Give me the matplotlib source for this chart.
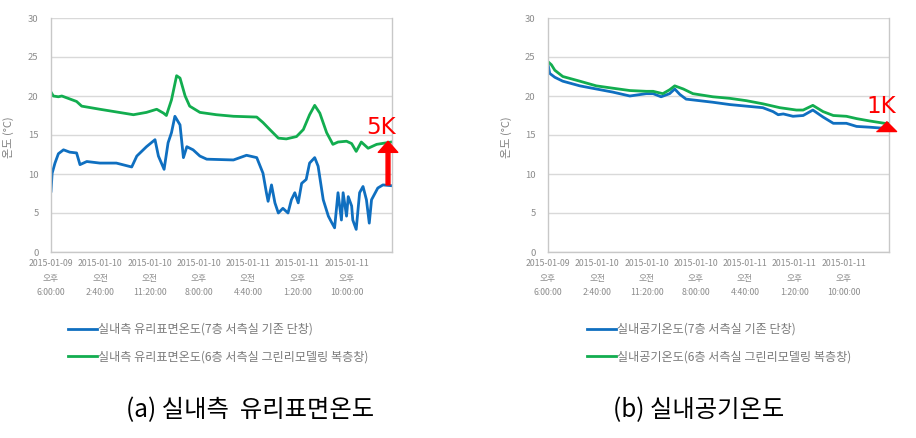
import matplotlib
matplotlib.use("Agg")
import matplotlib.pyplot as plt

plt.rcParams['font.family'] = ['Noto Sans CJK KR', 'DejaVu Sans']

# ---------------- data (time in hours from 2015-01-09 18:00) ----------------
tick_hours = [0, 8.667, 17.333, 26.0, 34.667, 43.333, 52.0]
tick_labels = [
    "2015-01-09\n오후\n6:00:00",
    "2015-01-10\n오전\n2:40:00",
    "2015-01-10\n오전\n11:20:00",
    "2015-01-10\n오후\n8:00:00",
    "2015-01-11\n오전\n4:40:00",
    "2015-01-11\n오후\n1:20:00",
    "2015-01-11\n오후\n10:00:00",
]
y_ticks = [0, 5, 10, 15, 20, 25, 30]

# (a) glass surface temperature
a_green_t = [0, 0.4, 1.3, 1.9, 4.5, 5.4, 8.6, 14.5, 16.8, 18.6, 19.8, 20.3, 21.2, 22.1,
             22.7, 23.6, 24.4, 26.2, 29.1, 32.1, 36.2, 37.3, 38.5, 40.0, 41.4, 43.2,
             44.4, 45.5, 46.4, 47.3, 48.5, 49.6, 50.5, 52.0, 52.9, 53.7, 54.6, 55.8,
             57.3, 59.9]
a_green_v = [20.5, 20.0, 19.9, 20.0, 19.3, 18.7, 18.3, 17.6, 17.9, 18.3, 17.8, 17.5, 19.5, 22.6,
             22.3, 20.0, 18.7, 17.9, 17.6, 17.4, 17.3, 16.6, 15.7, 14.6, 14.5, 14.8,
             15.7, 17.6, 18.8, 17.8, 15.3, 13.8, 14.1, 14.2, 13.9, 12.9, 14.1, 13.3,
             13.8, 14.1]
a_blue_t = [0, 0.2, 0.7, 1.3, 2.2, 3.3, 4.5, 5.1, 6.3, 8.6, 11.5, 14.2, 15.1, 16.8, 18.3,
            18.9, 19.9, 20.6, 21.2, 21.8, 22.7, 23.3, 23.9, 25.0, 26.2, 27.4, 32.1, 34.4,
            36.2, 37.3, 37.9, 38.2, 38.8, 39.4, 40.0, 40.8, 41.7, 42.3, 42.9, 43.5, 44.1,
            44.9, 45.5, 46.4, 47.0, 47.9, 48.8, 49.3, 49.9, 50.5, 51.1, 51.4, 52.0, 52.3,
            52.9, 53.1, 53.7, 54.3, 54.9, 55.5, 56.0, 56.4, 57.5, 58.4, 59.9]
a_blue_v = [7.8, 10.1, 11.4, 12.6, 13.1, 12.8, 12.7, 11.2, 11.6, 11.4, 11.4, 10.9, 12.3, 13.5, 14.4,
            12.3, 10.6, 14.0, 15.3, 17.4, 16.3, 12.1, 13.5, 13.1, 12.3, 11.9, 11.8, 12.4,
            12.1, 10.1, 7.6, 6.5, 8.6, 6.3, 5.0, 5.6, 5.0, 6.7, 7.6, 6.3, 8.8,
            9.3, 11.4, 12.1, 11.0, 6.7, 4.6, 3.9, 3.1, 7.6, 4.1, 7.6, 4.6, 7.1,
            5.9, 4.1, 2.9, 7.6, 8.4, 6.7, 3.7, 6.7, 8.2, 8.6, 8.5]

# (b) indoor air temperature
b_green_t = [0, 0.6, 1.2, 2.6, 5.6, 8.5, 11.4, 14.4, 17.3, 18.5, 20.2, 21.4, 22.3, 23.8,
             25.5, 29.0, 32.0, 34.9, 37.8, 40.8, 43.7, 44.9, 46.6, 48.4, 50.2, 52.5,
             54.3, 56.6, 59.2, 60.0]
b_green_v = [24.4, 24.0, 23.3, 22.5, 21.9, 21.3, 21.0, 20.7, 20.6, 20.6, 20.3, 20.8, 21.3, 20.9,
             20.3, 19.9, 19.7, 19.4, 19.0, 18.5, 18.2, 18.2, 18.8, 18.0, 17.5, 17.4,
             17.1, 16.8, 16.5, 16.5]
b_blue_t = [0, 0.3, 1.2, 2.6, 5.6, 8.5, 11.4, 14.4, 17.3, 18.5, 19.9, 21.4, 22.3, 23.2,
            24.3, 29.0, 32.0, 34.9, 37.8, 39.6, 40.5, 41.4, 43.1, 44.9, 46.6, 48.4,
            50.2, 52.5, 54.3, 56.6, 58.4, 59.3]
b_blue_v = [24.1, 22.9, 22.4, 21.9, 21.3, 20.9, 20.5, 20.0, 20.3, 20.3, 19.9, 20.3, 20.9, 20.2,
            19.6, 19.2, 18.9, 18.7, 18.5, 18.0, 17.6, 17.7, 17.4, 17.5, 18.2, 17.3,
            16.5, 16.5, 16.1, 16.0, 15.9, 15.9]

legend_a = ["실내측 유리표면온도(7층 서측실 기존 단창)",
            "실내측 유리표면온도(6층 서측실 그린리모델링 복층창)"]
legend_b = ["실내공기온도(7층 서측실 기존 단창)",
            "실내공기온도(6층 서측실 그린리모델링 복층창)"]
caption_a = "(a) 실내측  유리표면온도"
caption_b = "(b) 실내공기온도"
y_label = "온도 (°C)"

# annotations
arrow_t, arrow_from, arrow_to = 59.3, 8.6, 14.2
label_a_t, label_a_v, label_a = 58.1, 15.9, "5K"
tri_t, tri_v = 59.4, 16.1
label_b_t, label_b_v, label_b = 58.6, 18.6, "1K"

BLUE = "#0f6fc0"
GREEN = "#12ad4f"
GRAY_TXT = "#8c8c8c"
GRID = "#d9d9d9"

W, H = 916, 438
fig = plt.figure(figsize=(W / 100, H / 100), dpi=100)


def make_axes(x0_px):
    ax = fig.add_axes([x0_px / W, (H - 252) / H, 341 / W, 234 / H])
    ax.set_xlim(0, 60)
    ax.set_ylim(0, 30)
    ax.set_yticks(y_ticks)
    ax.set_xticks(tick_hours)
    ax.set_xticklabels(tick_labels, linespacing=1.8)
    ax.tick_params(axis='x', length=0, pad=5, labelsize=6.3, colors=GRAY_TXT)
    ax.tick_params(axis='y', length=0, pad=9, labelsize=6.8, colors=GRAY_TXT)
    ax.grid(axis='y', color=GRID, lw=1.0)
    ax.set_axisbelow(True)
    for s in ax.spines.values():
        s.set_color("#c8c8c8")
        s.set_linewidth(1.0)
    ax.spines['top'].set_visible(False)
    ax.set_ylabel(y_label, fontsize=8, color="#808080")
    return ax


ax1 = make_axes(51)
l1, = ax1.plot(a_blue_t, a_blue_v, color=BLUE, lw=2.0)
l2, = ax1.plot(a_green_t, a_green_v, color=GREEN, lw=2.0)
ax1.yaxis.set_label_coords(-0.108, 0.49)
ax1.annotate("", xy=(arrow_t, arrow_to), xytext=(arrow_t, arrow_from),
             arrowprops=dict(facecolor="red", edgecolor="red", width=2.8,
                             headwidth=14, headlength=8, shrink=0),
             annotation_clip=False)
ax1.text(label_a_t, label_a_v, label_a, color="red", fontsize=16.5,
         ha="center", va="center", family="DejaVu Sans", clip_on=False)

ax2 = make_axes(548)
m1, = ax2.plot(b_blue_t, b_blue_v, color=BLUE, lw=2.0)
m2, = ax2.plot(b_green_t, b_green_v, color=GREEN, lw=2.0)
ax2.yaxis.set_label_coords(-0.106, 0.49)
ax2.plot([tri_t], [tri_v], linestyle="none", color="red", ms=14.5,
         marker=[(-1, -0.5), (1, -0.5), (0, 0.5)], clip_on=False, zorder=5)
ax2.text(label_b_t, label_b_v, label_b, color="red", fontsize=16.5,
         ha="center", va="center", family="DejaVu Sans", clip_on=False)

leg_kw = dict(frameon=False, fontsize=8.7, handlelength=2.4, handletextpad=0.1,
              labelspacing=1.2, borderpad=0, borderaxespad=0, labelcolor="#7a7a7a")
fig.legend([l1, l2], legend_a, loc="center left",
           bbox_to_anchor=(68 / W, 1 - 343 / H), **leg_kw)
fig.legend([m1, m2], legend_b, loc="center left",
           bbox_to_anchor=(587 / W, 1 - 343 / H), **leg_kw)

fig.text(250 / W, 1 - 410 / H, caption_a, ha="center", va="center", fontsize=17.5)
fig.text(699 / W, 1 - 410 / H, caption_b, ha="center", va="center", fontsize=17.5)

fig.savefig("out.png", dpi=100)
